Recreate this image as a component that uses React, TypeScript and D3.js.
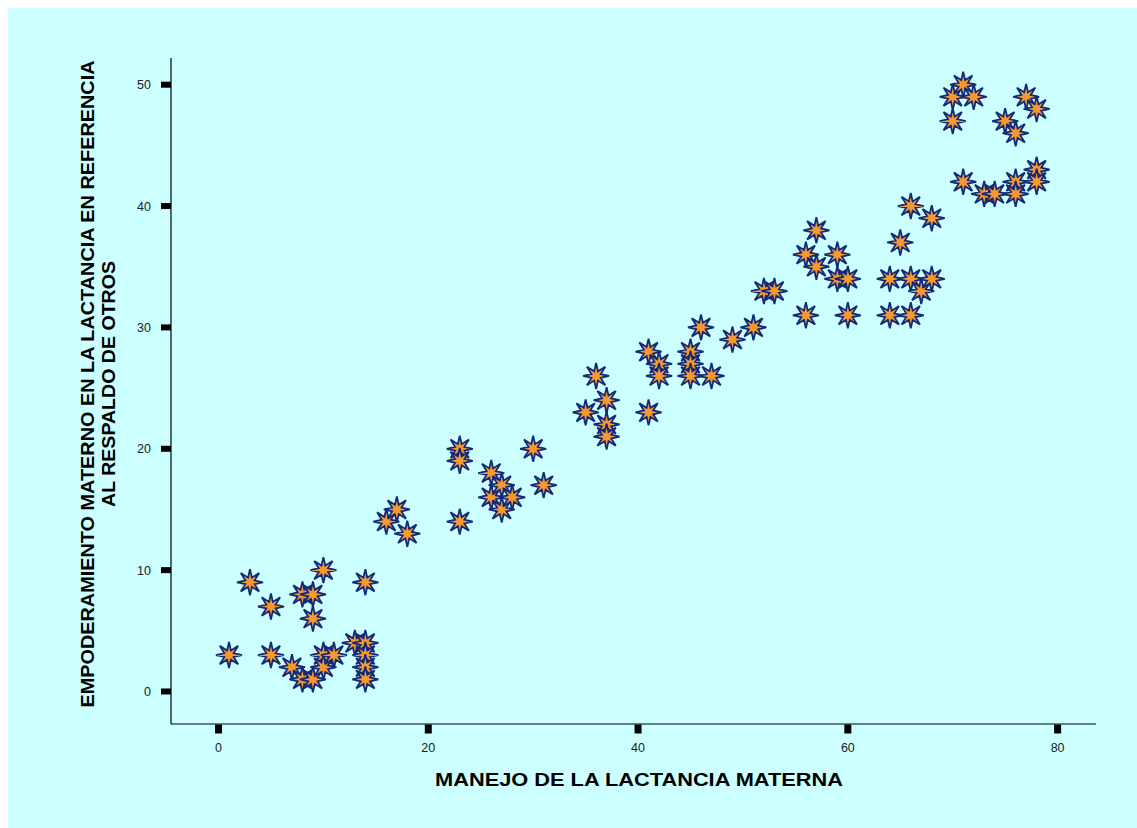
import React from "react";
import * as d3 from "d3";

// Manejo de la lactancia (x) vs. empoderamiento materno (y)
const manejo: number[] = [
  1, 3, 5, 5, 7, 8, 8, 9, 9, 9, 10, 10, 10, 11, 13, 14, 14, 14, 14, 14,
  16, 17, 18, 23, 23, 23, 26, 26, 27, 27, 28, 30, 31,
  35, 36, 37, 37, 37, 41, 41, 42, 42, 45, 45, 45, 46, 47,
  49, 51, 52, 53, 56, 56, 57, 57, 59, 59, 60, 60, 64, 64, 65, 66, 66, 66, 67, 68, 68,
  70, 70, 71, 72, 71, 73, 74, 75, 76, 76, 76, 77, 78, 78, 78,
];
const empoderamiento: number[] = [
  3, 9, 7, 3, 2, 1, 8, 1, 8, 6, 10, 3, 2, 3, 4, 4, 3, 2, 1, 9,
  14, 15, 13, 20, 19, 14, 18, 16, 17, 15, 16, 20, 17,
  23, 26, 24, 22, 21, 23, 28, 27, 26, 28, 27, 26, 30, 26,
  29, 30, 33, 33, 31, 36, 38, 35, 36, 34, 34, 31, 34, 31, 37, 40, 34, 31, 33, 39, 34,
  49, 47, 50, 49, 42, 41, 41, 47, 46, 42, 41, 49, 48, 43, 42,
];

const xTicks: number[] = [0, 20, 40, 60, 80];
const yTicks: number[] = [0, 10, 20, 30, 40, 50];

const xTitle = "MANEJO DE LA LACTANCIA MATERNA";
const yTitleLines: string[] = [
  "EMPODERAMIENTO MATERNO EN LA LACTANCIA EN REFERENCIA",
  "AL RESPALDO DE OTROS",
];

const W = 1137;
const H = 828;

// eight-pointed star marker centred on the origin
function starPath(outer: number, inner: number, points: number): string {
  const pts: [number, number][] = [];
  for (let i = 0; i < points * 2; i++) {
    const r = i % 2 === 0 ? outer : inner;
    const a = (Math.PI * i) / points - Math.PI / 2;
    pts.push([r * Math.cos(a), r * Math.sin(a)]);
  }
  return (d3.line()(pts) as string) + "Z";
}

export default function App() {
  const x = d3.scaleLinear().domain([-4.53, 83.66]).range([171, 1096]);
  const y = d3.scaleLinear().domain([-2.68, 52.2]).range([724, 58]);
  const star = starPath(13, 5, 8);
  const font = "'Liberation Sans', Arial, Helvetica, sans-serif";
  const yTitleLengths = [647, 246];

  return (
    <div style={{ position: "fixed", left: 0, top: 0, width: W, height: H }}>
      <svg width={W} height={H} style={{ display: "block" }} fontFamily={font}>
        <rect x={0} y={0} width={W} height={H} fill="#ffffff" />
        <rect x={8} y={8} width={W - 8} height={H - 8} fill="#ccffff" />

        {/* axes */}
        <line x1={x.range()[0]} x2={x.range()[1]} y1={724} y2={724} stroke="#000" strokeWidth={1.2} />
        <line x1={171} x2={171} y1={y.range()[1]} y2={y.range()[0]} stroke="#000" strokeWidth={1.2} />

        {xTicks.map((t) => (
          <g key={"xt" + t}>
            <rect x={x(t) - 3.5} y={724.5} width={7} height={9} fill="#000" />
            <text x={x(t)} y={752} textAnchor="middle" fontSize={12.5} fill="#222">
              {t}
            </text>
          </g>
        ))}
        {yTicks.map((t) => (
          <g key={"yt" + t}>
            <rect x={161} y={y(t) - 3} width={10} height={6} fill="#000" />
            <text x={151} y={y(t) + 4.5} textAnchor="end" fontSize={12.5} fill="#222">
              {t}
            </text>
          </g>
        ))}

        {/* titles */}
        <text
          x={639}
          y={786}
          textAnchor="middle"
          fontSize={17.5}
          fontWeight="bold"
          fill="#000"
          textLength={408}
          lengthAdjust="spacingAndGlyphs"
        >
          {xTitle}
        </text>
        <g transform="translate(0,384) rotate(-90)">
          {yTitleLines.map((l, i) => (
            <text
              key={i}
              x={0}
              y={94 + i * 21}
              textAnchor="middle"
              fontSize={17.5}
              fontWeight="bold"
              fill="#000"
              textLength={yTitleLengths[i]}
              lengthAdjust="spacingAndGlyphs"
            >
              {l}
            </text>
          ))}
        </g>

        {/* points */}
        {manejo.map((v, i) => (
          <path
            key={i}
            d={star}
            transform={`translate(${x(v)},${y(empoderamiento[i])})`}
            fill="#f7992e"
            stroke="#13297a"
            strokeWidth={1.8}
            strokeLinejoin="miter"
          />
        ))}
      </svg>
    </div>
  );
}
